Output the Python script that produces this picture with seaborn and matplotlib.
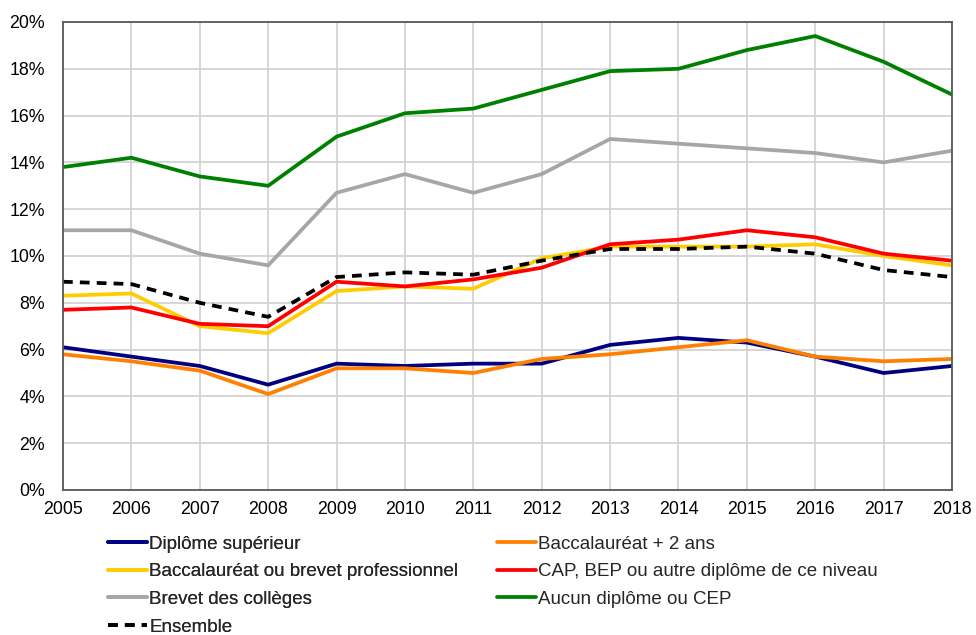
import matplotlib
matplotlib.use("Agg")
import matplotlib.pyplot as plt
import seaborn as sns
import pandas as pd
from matplotlib.ticker import FuncFormatter

years = list(range(2005, 2019))
diplome_sup = [6.1, 5.7, 5.3, 4.5, 5.4, 5.3, 5.4, 5.4, 6.2, 6.5, 6.3, 5.7, 5.0, 5.3]
bac_plus2 = [5.8, 5.5, 5.1, 4.1, 5.2, 5.2, 5.0, 5.6, 5.8, 6.1, 6.4, 5.7, 5.5, 5.6]
bac_pro = [8.3, 8.4, 7.0, 6.7, 8.5, 8.7, 8.6, 9.9, 10.4, 10.4, 10.4, 10.5, 10.0, 9.6]
cap_bep = [7.7, 7.8, 7.1, 7.0, 8.9, 8.7, 9.0, 9.5, 10.5, 10.7, 11.1, 10.8, 10.1, 9.8]
brevet = [11.1, 11.1, 10.1, 9.6, 12.7, 13.5, 12.7, 13.5, 15.0, 14.8, 14.6, 14.4, 14.0, 14.5]
aucun = [13.8, 14.2, 13.4, 13.0, 15.1, 16.1, 16.3, 17.1, 17.9, 18.0, 18.8, 19.4, 18.3, 16.9]
ensemble = [8.9, 8.8, 8.0, 7.4, 9.1, 9.3, 9.2, 9.8, 10.3, 10.3, 10.4, 10.1, 9.4, 9.1]

series = [
    ("Diplôme supérieur", diplome_sup, "#000080", "-"),
    ("Baccalauréat + 2 ans", bac_plus2, "#FF8000", "-"),
    ("Baccalauréat ou brevet professionnel", bac_pro, "#FFCC00", "-"),
    ("CAP, BEP ou autre diplôme de ce niveau", cap_bep, "#FF0000", "-"),
    ("Brevet des collèges", brevet, "#A6A6A6", "-"),
    ("Aucun diplôme ou CEP", aucun, "#008000", "-"),
    ("Ensemble", ensemble, "#000000", (0, (2.6, 1.9))),
]

sns.set_style("white")
plt.rcParams['font.family'] = ['Liberation Sans', 'DejaVu Sans']

fig = plt.figure(figsize=(9.76, 6.35), dpi=100)
ax = fig.add_axes([63/976, 1 - 490/635, (952-63)/976, (490-22)/635])

handles = {}
for name, vals, color, ls in series:
    df = pd.DataFrame({"year": years, "val": vals})
    sns.lineplot(data=df, x="year", y="val", ax=ax, color=color, linewidth=2.7,
                 linestyle=ls, label=name, legend=False)
    handles[name] = ax.lines[-1]

ax.set_xlim(2005, 2018)
ax.set_ylim(0, 20)
ax.set_xticks(years)
ax.set_yticks(range(0, 21, 2))
ax.yaxis.set_major_formatter(FuncFormatter(lambda v, p: f"{int(v)}%"))
ax.grid(True, color="#D0D0D0", linewidth=1.2)
ax.set_axisbelow(True)
for s in ax.spines.values():
    s.set_color("#595959")
    s.set_linewidth(1.3)
ax.tick_params(axis="both", labelsize=12.8, colors="#000000", length=0)
ax.tick_params(axis="x", pad=8)
ax.tick_params(axis="y", pad=13)
ax.set_xlabel("")
ax.set_ylabel("")

col1 = ["Diplôme supérieur", "Baccalauréat ou brevet professionnel", "Brevet des collèges", "Ensemble"]
col2 = ["Baccalauréat + 2 ans", "CAP, BEP ou autre diplôme de ce niveau", "Aucun diplôme ou CEP"]
leg_kw = dict(loc="upper left", frameon=False, fontsize=13.5, handlelength=2.1,
              handletextpad=0.1, labelspacing=0.56, borderaxespad=0, borderpad=0)
leg1 = fig.legend([handles[o] for o in col1], col1,
                  bbox_to_anchor=(108/976, 1 - 535.5/635), **leg_kw)
fig.add_artist(leg1)
leg2 = fig.legend([handles[o] for o in col2], col2,
                  bbox_to_anchor=(497/976, 1 - 535.5/635), **leg_kw)

fig.savefig("out.png", dpi=100)
